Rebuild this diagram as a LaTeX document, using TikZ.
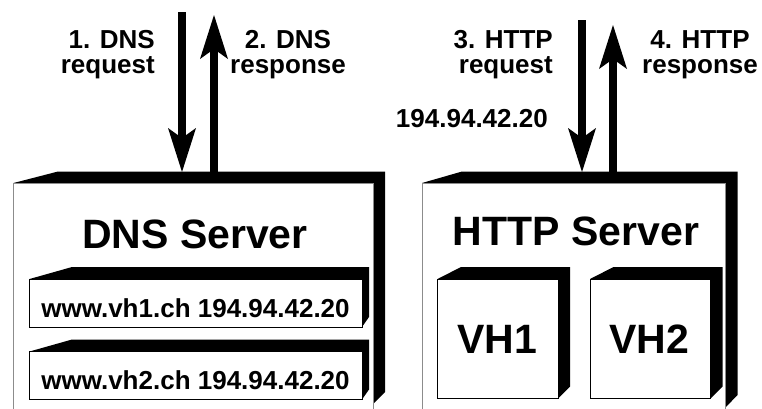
\documentclass[tikz,border=0pt]{standalone}
\usepackage{fontspec}
\setmainfont{Liberation Sans}
\usetikzlibrary{arrows.meta}

\tikzset{
  shell/.style={fill=white, draw=black!45, line width=1pt},
  slab/.style={fill=white, draw=black, line width=1pt},
  edge3d/.style={fill=black},
  msg/.style={font=\bfseries\fontsize{26}{25}\selectfont, inner sep=0pt},
  title/.style={font=\bfseries\fontsize{41}{41}\selectfont, inner sep=0pt, anchor=base},
  flow/.style={line width=8pt, -{Stealth[length=44pt, width=28pt, inset=10pt, line width=0pt]}},
}

\begin{document}
\begin{tikzpicture}[x=1pt,y=-1pt]
  \useasboundingbox (0,0) rectangle (762,408);

  % DNS server
  \fill[edge3d] (13.5,183) -- (58,171.5) -- (385,171.5) -- (385,392) -- (373,404) -- (373,183) -- cycle;
  \draw[shell] (13.5,183) rectangle (373,414);
  \node[title] (dnstitle) at (195,248) {DNS Server};
  \foreach \dy/\n in {0/1, 72.5/2}{
    \fill[edge3d] (29.5,279+\dy) -- (72,267+\dy) -- (369,267+\dy) -- (369,317+\dy) -- (362,327+\dy) -- (362,279+\dy) -- cycle;
    \draw[slab] (29.5,279+\dy) rectangle (362,327+\dy);
    \node[msg, anchor=base] (entry\n) at (195.5,317+\dy) {www.vh\n.ch 194.94.42.20};
  }

  % HTTP server
  \fill[edge3d] (422,183) -- (462,171.5) -- (737.5,171.5) -- (737.5,395) -- (725,408) -- (725,183) -- cycle;
  \draw[shell] (422,183) rectangle (725,414);
  \node[title] (httptitle) at (576,245) {HTTP Server};
  \foreach \x/\n in {0/1, 152.5/2}{
    \fill[edge3d] (437.5+\x,279) -- (461+\x,267) -- (570+\x,267) -- (570+\x,386.5) -- (558+\x,398.5) -- (558+\x,279) -- cycle;
    \draw[slab] (437.5+\x,279) rectangle (558+\x,398.5);
    \node[title] (vh\n) at (497+\x,353) {VH\n};
  }

  % messages
  \coordinate (dnsq0) at (182,12);   \coordinate (dnsq1) at (182,172);
  \coordinate (dnsr0) at (214,172);  \coordinate (dnsr1) at (214,15);
  \coordinate (httpq0) at (582,20);  \coordinate (httpq1) at (582,172);
  \coordinate (httpr0) at (613,172); \coordinate (httpr1) at (613,25);
  \draw[flow] (dnsq0) -- (dnsq1); %down
  \draw[flow] (dnsr0) -- (dnsr1); %up
  \draw[flow] (httpq0) -- (httpq1);
  \draw[flow] (httpr0) -- (httpr1);

  \node[msg, align=right, anchor=base east] (lbl1) at (155,73) {1. DNS\\request};
  \node[msg, align=center, anchor=base] (lbl2) at (288,73) {2. DNS\\response};
  \node[msg, align=right, anchor=base east] (lbl3) at (553,73) {3. HTTP\\request};
  \node[msg, align=center, anchor=base] (lbl4) at (700,73) {4. HTTP\\response};
  \node[msg, anchor=base east] (addr) at (548,127) {194.94.42.20};
\end{tikzpicture}
\end{document}
